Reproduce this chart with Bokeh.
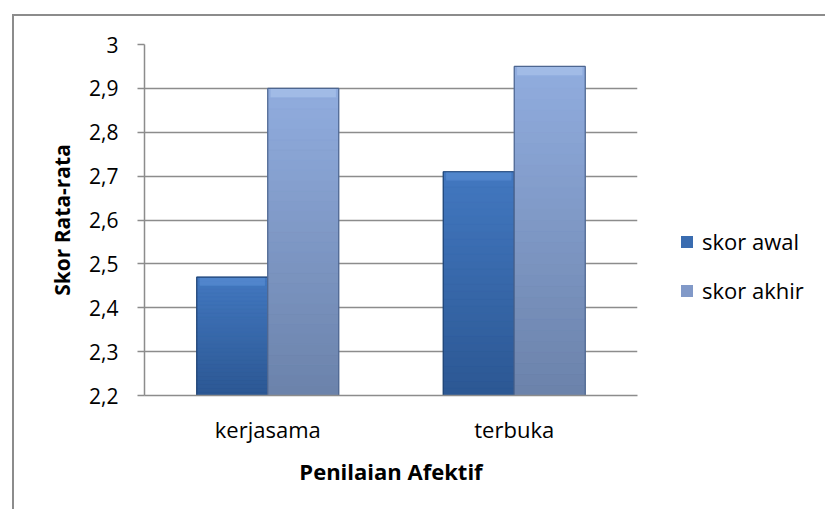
from bokeh.plotting import figure
from bokeh.models import FactorRange, Range1d, FixedTicker, Legend, LegendItem, ColumnDataSource
from bokeh.transform import dodge
from bokeh.embed import file_html
from bokeh.resources import INLINE

categories = ["kerjasama", "terbuka"]
skor_awal = [2.47, 2.71]
skor_akhir = [2.90, 2.95]
series_names = ["skor awal", "skor akhir"]
y_ticks = [2.2, 2.3, 2.4, 2.5, 2.6, 2.7, 2.8, 2.9, 3.0]
y_tick_labels = ["2,2", "2,3", "2,4", "2,5", "2,6", "2,7", "2,8", "2,9", "3"]
y_min, y_max = 2.2, 3.0

FONT = "Open Sans"
GRID = "#8c8c8c"
BAR_W = 0.288
OFFS = [-0.144, 0.144]
# (bottom colour, top colour, mid/legend colour, edge colour, bevel colour)
STYLES = [
    ("#2c5894", "#4277bf", "#3a6cb0", "#1f4374", "#6a9de0"),
    ("#6c83ab", "#90acde", "#8199c8", "#4d6690", "#bcd2f3"),
]

p = figure(
    x_range=FactorRange(*categories, range_padding=0),
    y_range=Range1d(y_min, y_max),
    frame_width=493, frame_height=351,
    output_backend="svg", toolbar_location=None,
    min_border_left=130, min_border_right=188, min_border_top=28, min_border_bottom=114,
)
p.margin = (14, 0, 0, 12)
p.styles = {"border-left": "2px solid #8c8c8c", "border-top": "2px solid #8c8c8c"}
p.outline_line_color = None
p.background_fill_color = "white"


def hex2rgb(h):
    return [int(h[i:i + 2], 16) for i in (1, 3, 5)]


def mix(c0, c1, t):
    a, b = hex2rgb(c0), hex2rgb(c1)
    return "#%02x%02x%02x" % tuple(int(round(a[i] + (b[i] - a[i]) * t)) for i in range(3))


legend_renderers = []
N = 30
for s, vals in enumerate([skor_awal, skor_akhir]):
    bot_c, top_c, mid_c, edge_c, bev_c = STYLES[s]
    base = ColumnDataSource(dict(cat=categories, top=vals))
    r = p.vbar(x=dodge("cat", OFFS[s], range=p.x_range), top="top", bottom=y_min, width=BAR_W,
               source=base, fill_color=mid_c, line_color=None)
    legend_renderers.append(r)
    cats, bots, tops, cols = [], [], [], []
    for c, v in zip(categories, vals):
        h = v - y_min
        for k in range(N):
            cats.append(c)
            bots.append(y_min + h * k / N)
            tops.append(y_min + h * (k + 1) / N)
            cols.append(mix(bot_c, top_c, k / (N - 1)))
    sl = ColumnDataSource(dict(cat=cats, bottom=bots, top=tops, color=cols))
    p.vbar(x=dodge("cat", OFFS[s], range=p.x_range), top="top", bottom="bottom", width=BAR_W,
           source=sl, fill_color="color", line_color="color", line_width=0.5)
    # top bevel highlight
    bev = ColumnDataSource(dict(cat=categories, top=vals, bottom=[v - 0.02 for v in vals]))
    p.vbar(x=dodge("cat", OFFS[s], range=p.x_range), top="top", bottom="bottom", width=BAR_W * 0.92,
           source=bev, fill_color=bev_c, fill_alpha=0.4, line_color=None)
    # outline
    p.vbar(x=dodge("cat", OFFS[s], range=p.x_range), top="top", bottom=y_min, width=BAR_W,
           source=base, fill_color=None, line_color=edge_c, line_width=1.2)

# y axis
p.yaxis.ticker = FixedTicker(ticks=y_ticks)
p.yaxis.major_label_overrides = {t: l for t, l in zip(y_ticks, y_tick_labels)}
p.yaxis.major_tick_out = 7
p.yaxis.major_tick_in = 0
p.yaxis.minor_tick_out = 0
p.yaxis.minor_tick_in = 0
p.yaxis.major_tick_line_color = GRID
p.yaxis.axis_line_color = GRID
p.yaxis.axis_line_width = 1.5
p.yaxis.major_tick_line_width = 1.5
p.yaxis.major_label_standoff = 19
p.yaxis.major_label_text_font = FONT
p.yaxis.major_label_text_font_size = "21px"
p.yaxis.major_label_text_color = "black"
p.yaxis.axis_label = "Skor Rata-rata"
p.yaxis.axis_label_text_font = FONT
p.yaxis.axis_label_text_font_style = "bold"
p.yaxis.axis_label_text_font_size = "21px"
p.yaxis.axis_label_text_color = "black"
p.yaxis.axis_label_standoff = 10

# x axis
p.xaxis.axis_line_color = GRID
p.xaxis.axis_line_width = 1.5
p.xaxis.major_tick_line_color = None
p.xaxis.minor_tick_line_color = None
p.xaxis.major_label_standoff = 12
p.xaxis.major_label_text_font = FONT
p.xaxis.major_label_text_font_size = "22px"
p.xaxis.major_label_text_color = "black"
p.xaxis.axis_label = "Penilaian Afektif"
p.xaxis.axis_label_text_font = FONT
p.xaxis.axis_label_text_font_style = "bold"
p.xaxis.axis_label_text_font_size = "22px"
p.xaxis.axis_label_text_color = "black"
p.xaxis.axis_label_standoff = 9

p.xgrid.grid_line_color = None
p.ygrid.grid_line_color = GRID
p.ygrid.grid_line_width = 1.5
p.ygrid.ticker = FixedTicker(ticks=y_ticks)

legend = Legend(
    items=[LegendItem(label=series_names[0], renderers=[legend_renderers[0]]),
           LegendItem(label=series_names[1], renderers=[legend_renderers[1]])],
    location=(42, 90),
    glyph_width=15, glyph_height=15, label_height=26, spacing=19,
    padding=0, margin=0, label_standoff=8,
    label_text_font=FONT, label_text_font_size="22px", label_text_color="black",
    border_line_color=None, background_fill_alpha=0,
)
p.add_layout(legend, "right")

open("out.html", "w").write(file_html(p, INLINE))
